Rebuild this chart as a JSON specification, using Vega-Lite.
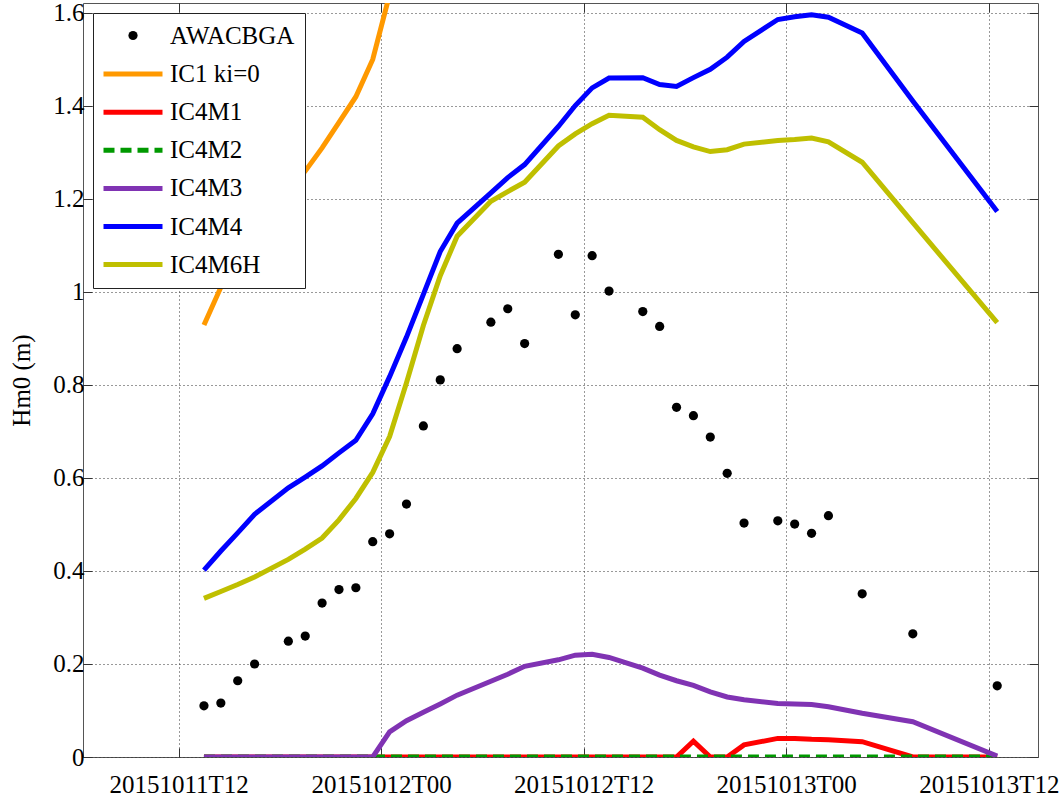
{
  "$schema": "https://vega.github.io/schema/vega-lite/v6.json",
  "width": 955,
  "height": 754,
  "autosize": {"type": "none"},
  "padding": {"left": 83, "top": 3, "right": 24, "bottom": 44},
  "background": "white",
  "config": {
    "font": "Liberation Serif",
    "view": {"stroke": "#555555", "strokeWidth": 1},
    "axis": {
      "labelFont": "Liberation Serif",
      "titleFont": "Liberation Serif",
      "labelColor": "black",
      "titleColor": "black",
      "labelFontSize": 25,
      "titleFontSize": 25,
      "titleFontWeight": "normal",
      "tickColor": "#333333",
      "tickSize": -9,
      "gridColor": "#333333",
      "gridDash": [1, 3],
      "gridOpacity": 1,
      "domain": false,
      "labelOverlap": false,
      "labelFlush": false
    }
  },
  "data": {
    "values": [
      {"time": "2015-10-11T13:30:00Z", "AWACBGA": 0.110, "IC1": 0.929, "IC4M1": 0, "IC4M2": 0, "IC4M3": 0, "IC4M4": 0.402, "IC4M6H": 0.341},
      {"time": "2015-10-11T14:30:00Z", "AWACBGA": 0.116, "IC1": 1.010, "IC4M1": 0, "IC4M2": 0, "IC4M3": 0, "IC4M4": 0.443, "IC4M6H": 0.356},
      {"time": "2015-10-11T15:30:00Z", "AWACBGA": 0.164, "IC1": 1.070, "IC4M1": 0, "IC4M2": 0, "IC4M3": 0, "IC4M4": 0.482, "IC4M6H": 0.371},
      {"time": "2015-10-11T16:30:00Z", "AWACBGA": 0.200, "IC1": 1.120, "IC4M1": 0, "IC4M2": 0, "IC4M3": 0, "IC4M4": 0.522, "IC4M6H": 0.387},
      {"time": "2015-10-11T18:30:00Z", "AWACBGA": 0.249, "IC1": 1.215, "IC4M1": 0, "IC4M2": 0, "IC4M3": 0, "IC4M4": 0.579, "IC4M6H": 0.425},
      {"time": "2015-10-11T19:30:00Z", "AWACBGA": 0.260, "IC1": 1.260, "IC4M1": 0, "IC4M2": 0, "IC4M3": 0, "IC4M4": 0.602, "IC4M6H": 0.447},
      {"time": "2015-10-11T20:30:00Z", "AWACBGA": 0.331, "IC1": 1.310, "IC4M1": 0, "IC4M2": 0, "IC4M3": 0, "IC4M4": 0.626, "IC4M6H": 0.471},
      {"time": "2015-10-11T21:30:00Z", "AWACBGA": 0.360, "IC1": 1.365, "IC4M1": 0, "IC4M2": 0, "IC4M3": 0, "IC4M4": 0.654, "IC4M6H": 0.510},
      {"time": "2015-10-11T22:30:00Z", "AWACBGA": 0.364, "IC1": 1.420, "IC4M1": 0, "IC4M2": 0, "IC4M3": 0, "IC4M4": 0.681, "IC4M6H": 0.556},
      {"time": "2015-10-11T23:30:00Z", "AWACBGA": 0.463, "IC1": 1.500, "IC4M1": 0, "IC4M2": 0, "IC4M3": 0, "IC4M4": 0.738, "IC4M6H": 0.612},
      {"time": "2015-10-12T00:30:00Z", "AWACBGA": 0.480, "IC1": 1.640, "IC4M1": 0, "IC4M2": 0, "IC4M3": 0.054, "IC4M4": 0.818, "IC4M6H": 0.689},
      {"time": "2015-10-12T01:30:00Z", "AWACBGA": 0.544, "IC1": null, "IC4M1": 0, "IC4M2": 0, "IC4M3": 0.078, "IC4M4": 0.903, "IC4M6H": 0.805},
      {"time": "2015-10-12T02:30:00Z", "AWACBGA": 0.712, "IC1": null, "IC4M1": 0, "IC4M2": 0, "IC4M3": 0.096, "IC4M4": 0.995, "IC4M6H": 0.928},
      {"time": "2015-10-12T03:30:00Z", "AWACBGA": 0.811, "IC1": null, "IC4M1": 0, "IC4M2": 0, "IC4M3": 0.114, "IC4M4": 1.087, "IC4M6H": 1.035},
      {"time": "2015-10-12T04:30:00Z", "AWACBGA": 0.878, "IC1": null, "IC4M1": 0, "IC4M2": 0, "IC4M3": 0.133, "IC4M4": 1.148, "IC4M6H": 1.120},
      {"time": "2015-10-12T06:30:00Z", "AWACBGA": 0.935, "IC1": null, "IC4M1": 0, "IC4M2": 0, "IC4M3": 0.163, "IC4M4": 1.213, "IC4M6H": 1.195},
      {"time": "2015-10-12T07:30:00Z", "AWACBGA": 0.964, "IC1": null, "IC4M1": 0, "IC4M2": 0, "IC4M3": 0.178, "IC4M4": 1.246, "IC4M6H": 1.216},
      {"time": "2015-10-12T08:30:00Z", "AWACBGA": 0.889, "IC1": null, "IC4M1": 0, "IC4M2": 0, "IC4M3": 0.195, "IC4M4": 1.274, "IC4M6H": 1.236},
      {"time": "2015-10-12T10:30:00Z", "AWACBGA": 1.081, "IC1": null, "IC4M1": 0, "IC4M2": 0, "IC4M3": 0.209, "IC4M4": 1.356, "IC4M6H": 1.314},
      {"time": "2015-10-12T11:30:00Z", "AWACBGA": 0.951, "IC1": null, "IC4M1": 0, "IC4M2": 0, "IC4M3": 0.219, "IC4M4": 1.401, "IC4M6H": 1.340},
      {"time": "2015-10-12T12:30:00Z", "AWACBGA": 1.078, "IC1": null, "IC4M1": 0, "IC4M2": 0, "IC4M3": 0.221, "IC4M4": 1.439, "IC4M6H": 1.362},
      {"time": "2015-10-12T13:30:00Z", "AWACBGA": 1.002, "IC1": null, "IC4M1": 0, "IC4M2": 0, "IC4M3": 0.214, "IC4M4": 1.460, "IC4M6H": 1.380},
      {"time": "2015-10-12T15:30:00Z", "AWACBGA": 0.958, "IC1": null, "IC4M1": 0, "IC4M2": 0, "IC4M3": 0.191, "IC4M4": 1.461, "IC4M6H": 1.376},
      {"time": "2015-10-12T16:30:00Z", "AWACBGA": 0.926, "IC1": null, "IC4M1": 0, "IC4M2": 0, "IC4M3": 0.176, "IC4M4": 1.446, "IC4M6H": 1.349},
      {"time": "2015-10-12T17:30:00Z", "AWACBGA": 0.752, "IC1": null, "IC4M1": 0, "IC4M2": 0, "IC4M3": 0.164, "IC4M4": 1.442, "IC4M6H": 1.326},
      {"time": "2015-10-12T18:30:00Z", "AWACBGA": 0.734, "IC1": null, "IC4M1": 0.034, "IC4M2": 0, "IC4M3": 0.154, "IC4M4": 1.461, "IC4M6H": 1.312},
      {"time": "2015-10-12T19:30:00Z", "AWACBGA": 0.688, "IC1": null, "IC4M1": 0, "IC4M2": 0, "IC4M3": 0.140, "IC4M4": 1.479, "IC4M6H": 1.302},
      {"time": "2015-10-12T20:30:00Z", "AWACBGA": 0.610, "IC1": null, "IC4M1": 0, "IC4M2": 0, "IC4M3": 0.129, "IC4M4": 1.505, "IC4M6H": 1.306},
      {"time": "2015-10-12T21:30:00Z", "AWACBGA": 0.503, "IC1": null, "IC4M1": 0.026, "IC4M2": 0, "IC4M3": 0.123, "IC4M4": 1.539, "IC4M6H": 1.318},
      {"time": "2015-10-12T23:30:00Z", "AWACBGA": 0.508, "IC1": null, "IC4M1": 0.040, "IC4M2": 0, "IC4M3": 0.115, "IC4M4": 1.586, "IC4M6H": 1.326},
      {"time": "2015-10-13T00:30:00Z", "AWACBGA": 0.501, "IC1": null, "IC4M1": 0.040, "IC4M2": 0, "IC4M3": 0.114, "IC4M4": 1.592, "IC4M6H": 1.328},
      {"time": "2015-10-13T01:30:00Z", "AWACBGA": 0.481, "IC1": null, "IC4M1": 0.038, "IC4M2": 0, "IC4M3": 0.113, "IC4M4": 1.596, "IC4M6H": 1.331},
      {"time": "2015-10-13T02:30:00Z", "AWACBGA": 0.519, "IC1": null, "IC4M1": 0.037, "IC4M2": 0, "IC4M3": 0.108, "IC4M4": 1.591, "IC4M6H": 1.323},
      {"time": "2015-10-13T04:30:00Z", "AWACBGA": 0.351, "IC1": null, "IC4M1": 0.033, "IC4M2": 0, "IC4M3": 0.094, "IC4M4": 1.557, "IC4M6H": 1.279},
      {"time": "2015-10-13T07:30:00Z", "AWACBGA": 0.265, "IC1": null, "IC4M1": 0, "IC4M2": 0, "IC4M3": 0.076, "IC4M4": 1.411, "IC4M6H": 1.149},
      {"time": "2015-10-13T12:30:00Z", "AWACBGA": 0.153, "IC1": null, "IC4M1": 0, "IC4M2": 0, "IC4M3": 0.002, "IC4M4": 1.173, "IC4M6H": 0.934}
    ]
  },
  "layer": [
    {
      "mark": {"type": "point", "filled": true, "opacity": 1},
      "encoding": {
        "x": {
          "field": "time", "type": "temporal",
          "scale": {
            "type": "utc",
            "domain": [
              {"year": 2015, "month": 10, "date": 11, "hours": 6, "minutes": 20, "utc": true},
              {"year": 2015, "month": 10, "date": 13, "hours": 14, "minutes": 55, "utc": true}
            ]
          },
          "axis": {
            "orient": "bottom",
            "title": null,
            "format": "%Y%m%dT%H",
            "grid": true,
            "labelPadding": 24,
            "values": [
              {"year": 2015, "month": 10, "date": 11, "hours": 12, "utc": true},
              {"year": 2015, "month": 10, "date": 12, "hours": 0, "utc": true},
              {"year": 2015, "month": 10, "date": 12, "hours": 12, "utc": true},
              {"year": 2015, "month": 10, "date": 13, "hours": 0, "utc": true},
              {"year": 2015, "month": 10, "date": 13, "hours": 12, "utc": true}
            ]
          }
        },
        "y": {
          "field": "AWACBGA", "type": "quantitative",
          "scale": {"domain": [0, 1.6215], "nice": false, "zero": false},
          "axis": {
            "orient": "left",
            "title": "Hm0 (m)",
            "titlePadding": 18,
            "format": "~g",
            "grid": true,
            "labelPadding": 8,
            "values": [0, 0.2, 0.4, 0.6, 0.8, 1, 1.2, 1.4, 1.6]
          }
        },
        "color": {
          "datum": "AWACBGA",
          "type": "nominal",
          "scale": {
            "domain": ["AWACBGA", "IC1 ki=0", "IC4M1", "IC4M2", "IC4M3", "IC4M4", "IC4M6H"],
            "range": ["#000000", "#FF9900", "#FF0000", "#009900", "#8033B3", "#0000FF", "#BFBF00"]
          },
          "legend": {
            "title": null,
            "orient": "none",
            "legendX": 10,
            "legendY": 10,
            "fillColor": "white",
            "strokeColor": "#222222",
            "padding": 10,
            "labelFont": "Liberation Serif",
            "labelFontSize": 25,
            "labelColor": "black",
            "labelLimit": 400,
            "labelOffset": 22,
            "symbolType": "M-2.36,0L2.36,0",
            "symbolSize": 625,
            "symbolStrokeWidth": 5,
            "symbolOffset": 15,
            "rowPadding": 10.1
          }
        },
        "shape": {
          "datum": "AWACBGA",
          "type": "nominal",
          "scale": {
            "domain": ["AWACBGA", "IC1 ki=0", "IC4M1", "IC4M2", "IC4M3", "IC4M4", "IC4M6H"],
            "range": ["circle", "M-2.36,0L2.36,0", "M-2.36,0L2.36,0", "M-2.36,0L2.36,0", "M-2.36,0L2.36,0", "M-2.36,0L2.36,0", "M-2.36,0L2.36,0"]
          }
        },
        "size": {
          "datum": "AWACBGA",
          "type": "nominal",
          "scale": {
            "type": "ordinal",
            "domain": ["AWACBGA", "IC1 ki=0", "IC4M1", "IC4M2", "IC4M3", "IC4M4", "IC4M6H"],
            "range": [85, 625, 625, 625, 625, 625, 625]
          }
        },
        "strokeWidth": {
          "datum": "AWACBGA",
          "type": "nominal",
          "scale": {
            "type": "ordinal",
            "domain": ["AWACBGA", "IC1 ki=0", "IC4M1", "IC4M2", "IC4M3", "IC4M4", "IC4M6H"],
            "range": [0, 5, 5, 5, 5, 5, 5]
          }
        }
      }
    },
    {
      "mark": {"type": "line", "strokeWidth": 5, "clip": true},
      "encoding": {
        "x": {"field": "time", "type": "temporal", "axis": null},
        "y": {"field": "IC1", "type": "quantitative", "axis": null},
        "color": {"datum": "IC1 ki=0", "type": "nominal"}
      }
    },
    {
      "mark": {"type": "line", "strokeWidth": 5, "clip": true},
      "encoding": {
        "x": {"field": "time", "type": "temporal", "axis": null},
        "y": {"field": "IC4M1", "type": "quantitative", "axis": null},
        "color": {"datum": "IC4M1", "type": "nominal"}
      }
    },
    {
      "mark": {"type": "line", "strokeWidth": 5, "clip": true},
      "encoding": {
        "x": {"field": "time", "type": "temporal", "axis": null},
        "y": {"field": "IC4M2", "type": "quantitative", "axis": null},
        "color": {"datum": "IC4M2", "type": "nominal"},
        "strokeDash": {
          "datum": "IC4M2",
          "type": "nominal",
          "scale": {
            "domain": ["AWACBGA", "IC1 ki=0", "IC4M1", "IC4M2", "IC4M3", "IC4M4", "IC4M6H"],
            "range": [[1, 0], [1, 0], [1, 0], [11, 6], [1, 0], [1, 0], [1, 0]]
          }
        }
      }
    },
    {
      "mark": {"type": "line", "strokeWidth": 5, "clip": true},
      "encoding": {
        "x": {"field": "time", "type": "temporal", "axis": null},
        "y": {"field": "IC4M3", "type": "quantitative", "axis": null},
        "color": {"datum": "IC4M3", "type": "nominal"}
      }
    },
    {
      "mark": {"type": "line", "strokeWidth": 5, "clip": true},
      "encoding": {
        "x": {"field": "time", "type": "temporal", "axis": null},
        "y": {"field": "IC4M4", "type": "quantitative", "axis": null},
        "color": {"datum": "IC4M4", "type": "nominal"}
      }
    },
    {
      "mark": {"type": "line", "strokeWidth": 5, "clip": true},
      "encoding": {
        "x": {
          "field": "time", "type": "temporal",
          "axis": {
            "orient": "top",
            "title": null,
            "labels": false,
            "grid": false,
            "values": [
              {"year": 2015, "month": 10, "date": 11, "hours": 12, "utc": true},
              {"year": 2015, "month": 10, "date": 12, "hours": 0, "utc": true},
              {"year": 2015, "month": 10, "date": 12, "hours": 12, "utc": true},
              {"year": 2015, "month": 10, "date": 13, "hours": 0, "utc": true},
              {"year": 2015, "month": 10, "date": 13, "hours": 12, "utc": true}
            ]
          }
        },
        "y": {
          "field": "IC4M6H", "type": "quantitative",
          "axis": {
            "orient": "right",
            "title": null,
            "labels": false,
            "grid": false,
            "values": [0, 0.2, 0.4, 0.6, 0.8, 1, 1.2, 1.4, 1.6]
          }
        },
        "color": {"datum": "IC4M6H", "type": "nominal"}
      }
    }
  ],
  "resolve": {"axis": {"x": "independent", "y": "independent"}}
}
